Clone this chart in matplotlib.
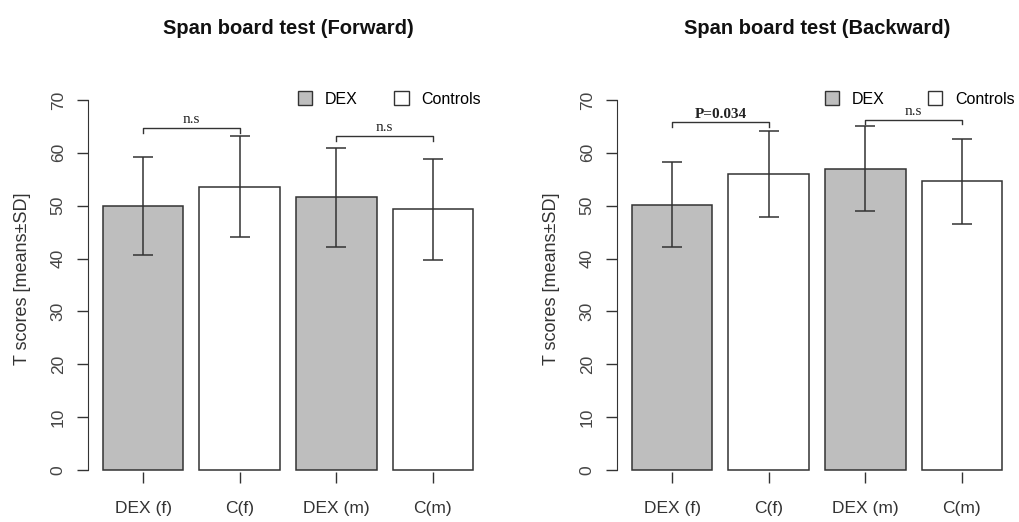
import matplotlib
matplotlib.use("Agg")
import matplotlib.pyplot as plt
from matplotlib.patches import Patch

groups = ["DEX (f)", "C(f)", "DEX (m)", "C(m)"]
fwd_mean = [50.0, 53.6, 51.6, 49.3]
fwd_sd = [9.3, 9.5, 9.4, 9.5]
bwd_mean = [50.2, 56.0, 57.0, 54.6]
bwd_sd = [8.0, 8.1, 8.0, 8.0]
fwd_marks = [("n.s", 0, 1, 64.7), ("n.s", 2, 3, 63.2)]
bwd_marks = [("P=0.034", 0, 1, 65.8), ("n.s", 2, 3, 66.3)]

FILL = ["#bebebe", "white", "#bebebe", "white"]
INK = "#333333"
plt.rcParams["font.family"] = ["Liberation Sans", "DejaVu Sans"]


def panel(ax, title, means, sds, marks, legend_x, col_gap):
    xs = [0.7 + 1.2 * i for i in range(len(means))]
    ax.bar(xs, means, width=1.0, color=FILL, edgecolor=INK, linewidth=1.1)
    ax.errorbar(xs, means, yerr=sds, fmt="none", ecolor=INK, elinewidth=1.1,
                capsize=7.5, capthick=1.1)
    for label, a, b, y in marks:
        ax.plot([xs[a], xs[a], xs[b], xs[b]], [y - 0.9, y, y, y - 0.9],
                color=INK, linewidth=1)
        bold = label.startswith("P")
        ax.text((xs[a] + xs[b]) / 2, y + 0.3, label, ha="center", va="bottom",
                family="Liberation Serif", fontsize=11,
                fontweight="bold" if bold else "normal", color="#222222")
    ax.set_xlim(0.016, 4.984)
    ax.set_ylim(-0.4, 72.8)
    ax.set_xticks(xs)
    ax.set_xticklabels(groups, fontsize=12.5, color="#333333")
    ax.set_yticks(range(0, 71, 10))
    ax.set_yticklabels([str(v) for v in range(0, 71, 10)], rotation=90,
                       va="center", fontsize=12.5, color="#444444")
    for s in ("top", "right", "bottom"):
        ax.spines[s].set_visible(False)
    ax.spines["left"].set_bounds(0, 70)
    ax.spines["left"].set_color(INK)
    ax.tick_params(axis="both", length=8, width=1, color=INK, pad=8)
    ax.tick_params(axis="x", pad=13)
    ax.set_ylabel("T scores [means\u00b1SD]", fontsize=13, color="#333333",
                  labelpad=14)
    ax.set_title(title, fontsize=14.5, fontweight="bold", pad=37,
                 color="#111111")
    handles = [Patch(facecolor="#bebebe", edgecolor=INK, label="DEX"),
               Patch(facecolor="white", edgecolor=INK, label="Controls")]
    ax.legend(handles=handles, ncol=2, frameon=False, fontsize=11.5,
              handlelength=0.9, handleheight=0.9, columnspacing=col_gap,
              handletextpad=0.8, loc="center left",
              bbox_to_anchor=(legend_x, 70.2), bbox_transform=ax.transData,
              borderpad=0, borderaxespad=0)


fig = plt.figure(figsize=(10.2, 5.22), dpi=100)
ax1 = fig.add_axes([88 / 1020, 50 / 522, 400 / 1020, 386.8 / 522])
ax2 = fig.add_axes([617 / 1020, 50 / 522, 400 / 1020, 386.8 / 522])
panel(ax1, "Span board test (Forward)", fwd_mean, fwd_sd, fwd_marks, 2.62, 2.3)
panel(ax2, "Span board test (Backward)", bwd_mean, bwd_sd, bwd_marks, 2.6, 2.7)
fig.savefig("out.png", dpi=100)
